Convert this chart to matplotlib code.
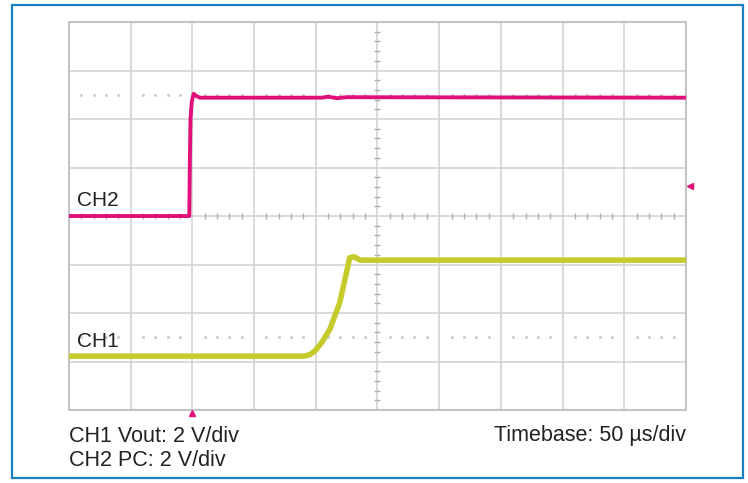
import matplotlib.pyplot as plt
import numpy as np

# screen is 10 x 8 divisions, centre at (5, 0)
ch2_t = [0.0, 1.95, 1.96, 1.97, 1.99, 2.02, 2.06, 2.12, 4.10, 4.20, 4.35, 4.50, 10.0]
ch2_v = [0.0, 0.0, 1.20, 2.00, 2.35, 2.52, 2.48, 2.44, 2.44, 2.46, 2.43, 2.45, 2.44]

ch1_t = [0.0, 3.80, 3.90, 3.99, 4.10, 4.23, 4.39, 4.55, 4.62, 4.72, 10.0]
ch1_v = [-2.89, -2.89, -2.86, -2.78, -2.60, -2.33, -1.78, -0.86, -0.84, -0.91, -0.91]

ch2_ref = 2.5
ch1_ref = -2.5
trig_t = 2.0
ch2_marker = 0.62

left_text = ["CH1 Vout: 2 V/div", "CH2 PC: 2 V/div"]
right_text = "Timebase: 50 µs/div"

PINK = "#e0107a"
YEL = "#c6cb2c"
GRID = "#cfcfcf"


def main():
    plt.rcParams['font.family'] = ['Liberation Sans', 'DejaVu Sans']
    fig = plt.figure(figsize=(7.48, 4.83), dpi=100)
    ax = fig.add_axes([0.0922, 0.1511, 0.8249, 0.8033])
    ax.set_xlim(0, 10)
    ax.set_ylim(-4, 4)

    # grid
    for x in range(1, 10):
        ax.axvline(x, color=GRID, lw=1.1, zorder=1)
    for y in range(-3, 4):
        ax.axhline(y, color=GRID, lw=1.1, zorder=1)
    for s in ax.spines.values():
        s.set_color("#c4c4c4")
        s.set_linewidth(1.5)
    ax.set_xticks([])
    ax.set_yticks([])

    # minor ticks on the centre lines
    xs = [v for v in np.arange(0.2, 10, 0.2) if abs(v - round(v)) > 0.01]
    ys = [v for v in np.arange(-3.8, 4, 0.2) if abs(v - round(v)) > 0.01]
    ax.plot(xs, [0] * len(xs), ls="none", marker="|", ms=4, mew=1.0, color="#b0b0b0", zorder=1)
    ax.plot([5] * len(ys), ys, ls="none", marker="_", ms=4, mew=1.0, color="#b0b0b0", zorder=1)

    # reference dots
    for r in (ch2_ref, ch1_ref):
        ax.plot(xs, [r] * len(xs), ls="none", marker="o", ms=1.1, color="#c8c8c8", zorder=1)

    ax.plot(ch1_t, ch1_v, color=YEL, lw=4.0, solid_joinstyle="round", zorder=3)
    ax.plot(ch2_t, ch2_v, color=PINK, lw=2.8, solid_joinstyle="round", zorder=4)
    ax.plot(ch2_t[:4], ch2_v[:4], color=PINK, lw=1.3, zorder=5)

    ax.text(0.13, 0.33, "CH2", fontsize=15, color="#222222", va="center", zorder=6)
    ax.text(0.13, -2.58, "CH1", fontsize=15, color="#222222", va="center", zorder=6)

    # trigger markers
    ax.plot([trig_t], [-4.07], marker="^", ms=5, color=PINK, clip_on=False, zorder=6)
    ax.plot([10.06], [ch2_marker], marker="<", ms=5, color=PINK, clip_on=False, zorder=6)

    fs = 15.5
    fig.text(69 / 748, 1 - 436 / 483, left_text[0], fontsize=fs, color="#222222", va="center")
    fig.text(69 / 748, 1 - 461 / 483, left_text[1], fontsize=fs, color="#222222", va="center")
    fig.text(686 / 748, 1 - 436 / 483, right_text, fontsize=fs, color="#222222", va="center", ha="right")

    # outer blue frame
    fig.patches.append(plt.Rectangle((12 / 748, 1 - 478 / 483), (743 - 12) / 748, (478 - 5) / 483,
                                     transform=fig.transFigure, fill=False, ec="#1a7fc0", lw=1.6))

    fig.savefig("out.png", dpi=100)


if __name__ == "__main__":
    main()
